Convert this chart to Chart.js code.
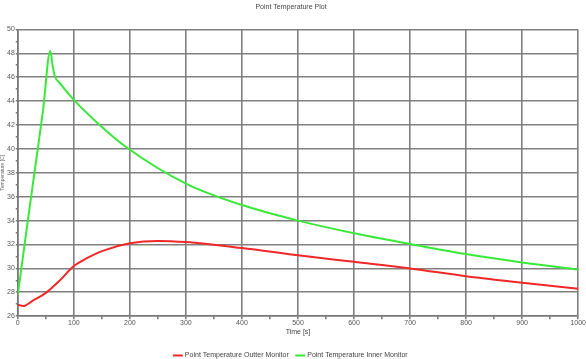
<!DOCTYPE html>
<html>
<head>
<meta charset="utf-8">
<script src="https://cdn.jsdelivr.net/npm/chart.js@4.4.1/dist/chart.umd.min.js"></script>
<style>
  html, body { margin: 0; padding: 0; background: #fff; }
  #wrap { width: 586px; height: 359px; }
</style>
</head>
<body>
<div id="wrap"><canvas id="myChartLine"></canvas></div>
<script>
// outer monitor (red)
const outerTime = [0, 10, 25, 50, 75, 100, 125, 150, 200, 250, 300, 400, 500, 600, 700, 800, 900, 1000];
const outerTemp = [26.95, 26.85, 27.25, 27.95, 29.0, 30.2, 30.9, 31.45, 32.1, 32.3, 32.2, 31.7, 31.1, 30.55, 30.0, 29.35, 28.8, 28.3];

// inner monitor (green)
const innerTime = [0, 5, 15, 30, 45, 58, 62, 66, 75, 100, 145, 195, 300, 400, 500, 600, 700, 800, 900, 1000];
const innerTemp = [27.8, 29.5, 33.0, 38.1, 43.2, 48.2, 47.0, 46.1, 45.5, 44.1, 42.05, 40.1, 37.1, 35.3, 34.0, 32.95, 32.05, 31.2, 30.5, 29.9];

const xTicks = [0, 100, 200, 300, 400, 500, 600, 700, 800, 900, 1000];
const yTicks = [26, 28, 30, 32, 34, 36, 38, 40, 42, 44, 46, 48, 50];

const toPoints = (xs, ys) => xs.map((x, i) => ({ x: x, y: ys[i] }));

const font = { family: 'Liberation Sans, Arial, sans-serif', size: 7 };

const ctx = document.getElementById('myChartLine');
new Chart(ctx, {
  type: 'line',
  data: {
    datasets: [{
      label: 'Point Temperature Outter Monitor',
      data: toPoints(outerTime, outerTemp),
      borderColor: '#f02828',
      backgroundColor: '#f02828',
      borderWidth: 2,
      pointRadius: 0,
      cubicInterpolationMode: 'monotone'
    },
    {
      label: 'Point Temperature Inner Monitor',
      data: toPoints(innerTime, innerTemp),
      borderColor: '#3ae83a',
      backgroundColor: '#3ae83a',
      borderWidth: 2,
      pointRadius: 0,
      cubicInterpolationMode: 'monotone'
    }]
  },
  options: {
    responsive: true,
    maintainAspectRatio: false,
    animation: false,
    layout: { padding: { left: 0, right: 4, top: 0, bottom: -10 } },
    plugins: {
      title: {
        display: true,
        text: 'Point Temperature Plot',
        color: '#444',
        font: { family: font.family, size: 7, weight: 'normal' },
        padding: { top: 3, bottom: 18 }
      },
      legend: {
        position: 'bottom',
        labels: {
          color: '#444',
          font: font,
          usePointStyle: true,
          pointStyle: 'line',
          boxWidth: 10,
          padding: 8
        }
      },
      tooltip: { enabled: false }
    },
    scales: {
      x: {
        type: 'linear',
        min: 0,
        max: 1000,
        ticks: {
          stepSize: 50,
          color: '#555',
          font: font,
          padding: 0,
          maxRotation: 0,
          autoSkip: false,
          callback: v => xTicks.includes(v) ? String(v) : ''
        },
        grid: {
          color: c => c.tick && xTicks.includes(c.tick.value) ? '#808080' : 'rgba(0,0,0,0)',
          tickColor: '#777',
          tickLength: 3,
          lineWidth: 1.6
        },
        border: { color: '#777', width: 1.6 },
        title: { display: true, text: 'Time [s]', color: '#444', font: font, padding: { top: 0, bottom: 8 } }
      },
      y: {
        min: 26,
        max: 50,
        ticks: {
          stepSize: 1,
          color: '#555',
          font: font,
          padding: 1,
          autoSkip: false,
          callback: v => yTicks.includes(v) ? String(v) : ''
        },
        grid: {
          color: c => c.tick && yTicks.includes(c.tick.value) ? '#808080' : 'rgba(0,0,0,0)',
          tickColor: '#777',
          tickLength: 2,
          lineWidth: 1.6
        },
        border: { color: '#777', width: 1.6 },
        title: { display: true, text: 'Temperature [C]', color: '#666', font: { family: font.family, size: 5 }, padding: 0 }
      }
    }
  }
});
</script>
</body>
</html>
